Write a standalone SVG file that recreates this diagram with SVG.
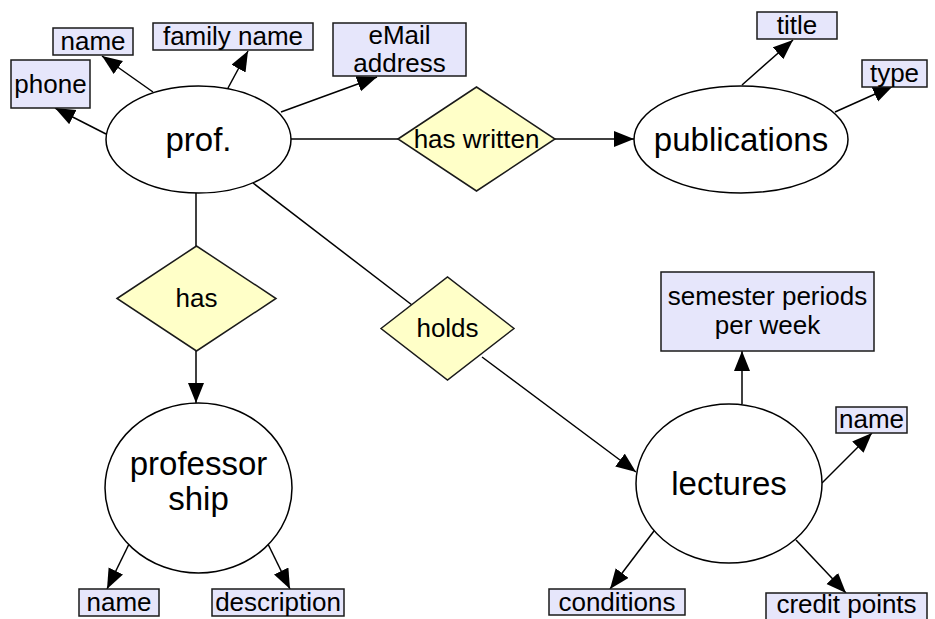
<svg xmlns="http://www.w3.org/2000/svg" width="935" height="619" viewBox="0 0 935 619">
  <style>
    .attr rect { fill: #e6e6fb; stroke: #1a1a1a; stroke-width: 1.5; }
    .rel polygon { fill: #ffffc8; stroke: #1a1a1a; stroke-width: 1.5; }
    .ent ellipse { fill: #ffffff; stroke: #000000; stroke-width: 1.5; }
    text { font-family: "Liberation Sans", Arial, sans-serif; fill: #000000; text-anchor: middle; }
    .attr text, .rel text { font-size: 26px; }
    .ent text { font-size: 33px; }
    .edges line { stroke: #000000; stroke-width: 1.5; }
  </style>
  <defs>
    <marker id="arrow" markerUnits="userSpaceOnUse" markerWidth="22" markerHeight="17" refX="20" refY="8" orient="auto">
      <path d="M0,0 L20,8 L0,16 z" fill="#000000"/>
    </marker>
  </defs>

  <rect width="935" height="619" fill="#ffffff"/>

  <!-- connectors -->
  <g class="edges">
    <line x1="106" y1="134" x2="55" y2="108" marker-end="url(#arrow)"/>
    <line x1="153" y1="92" x2="102" y2="56" marker-end="url(#arrow)"/>
    <line x1="228" y1="88" x2="248" y2="51" marker-end="url(#arrow)"/>
    <line x1="281" y1="112" x2="377" y2="77" marker-end="url(#arrow)"/>
    <line x1="291" y1="139" x2="398" y2="139"/>
    <line x1="555" y1="139" x2="634" y2="139" marker-end="url(#arrow)"/>
    <line x1="742" y1="85" x2="793" y2="40" marker-end="url(#arrow)"/>
    <line x1="835" y1="112" x2="893" y2="86" marker-end="url(#arrow)"/>
    <line x1="196" y1="193" x2="196" y2="246"/>
    <line x1="196" y1="351" x2="196" y2="403" marker-end="url(#arrow)"/>
    <line x1="253" y1="183" x2="412" y2="305"/>
    <line x1="482" y1="357" x2="636" y2="472" marker-end="url(#arrow)"/>
    <line x1="131" y1="540" x2="107" y2="589" marker-end="url(#arrow)"/>
    <line x1="266" y1="540" x2="290" y2="589" marker-end="url(#arrow)"/>
    <line x1="742" y1="404" x2="742" y2="351" marker-end="url(#arrow)"/>
    <line x1="822" y1="483" x2="872" y2="433" marker-end="url(#arrow)"/>
    <line x1="657" y1="527" x2="610" y2="589" marker-end="url(#arrow)"/>
    <line x1="796" y1="540" x2="846" y2="593" marker-end="url(#arrow)"/>
  </g>

  <!-- entities -->
  <g id="prof" class="ent">
    <ellipse cx="198.5" cy="139.5" rx="92.5" ry="53.5"/>
    <text x="198.5" y="151">prof.</text>
  </g>
  <g id="publications" class="ent">
    <ellipse cx="741" cy="139.5" rx="107" ry="53.5"/>
    <text x="741" y="151">publications</text>
  </g>
  <g id="professorship" class="ent">
    <ellipse cx="198.5" cy="488" rx="93.5" ry="85"/>
    <text x="198.5" y="475">professor</text>
    <text x="198.5" y="510">ship</text>
  </g>
  <g id="lectures" class="ent">
    <ellipse cx="729" cy="483.5" rx="93" ry="79.5"/>
    <text x="729" y="495">lectures</text>
  </g>

  <!-- relationships -->
  <g id="has-written" class="rel">
    <polygon points="398,139 476.5,87 555,139 476.5,191"/>
    <text x="476.5" y="148">has written</text>
  </g>
  <g id="has" class="rel">
    <polygon points="117,298.5 196.5,246 276,298.5 196.5,351"/>
    <text x="196.5" y="307">has</text>
  </g>
  <g id="holds" class="rel">
    <polygon points="381,328.5 447.5,277 514,328.5 447.5,380"/>
    <text x="447.5" y="337">holds</text>
  </g>

  <!-- attributes -->
  <g id="prof-phone" class="attr">
    <rect x="11" y="60" width="79" height="48"/>
    <text x="50.5" y="93">phone</text>
  </g>
  <g id="prof-name" class="attr">
    <rect x="53" y="28" width="80" height="27"/>
    <text x="93" y="50">name</text>
  </g>
  <g id="prof-family-name" class="attr">
    <rect x="153" y="23" width="160" height="27"/>
    <text x="233" y="45">family name</text>
  </g>
  <g id="prof-email" class="attr">
    <rect x="333" y="23" width="133" height="53"/>
    <text x="399.5" y="44">eMail</text>
    <text x="399.5" y="72">address</text>
  </g>
  <g id="pub-title" class="attr">
    <rect x="757" y="12" width="80" height="27"/>
    <text x="797" y="34">title</text>
  </g>
  <g id="pub-type" class="attr">
    <rect x="862" y="60" width="65" height="27"/>
    <text x="894.5" y="82">type</text>
  </g>
  <g id="ship-name" class="attr">
    <rect x="79" y="589" width="80" height="27"/>
    <text x="119" y="611">name</text>
  </g>
  <g id="ship-description" class="attr">
    <rect x="212" y="589" width="132" height="27"/>
    <text x="278" y="611">description</text>
  </g>
  <g id="lect-semester" class="attr">
    <rect x="661" y="272" width="213" height="79"/>
    <text x="767.5" y="305">semester periods</text>
    <text x="767.5" y="334">per week</text>
  </g>
  <g id="lect-name" class="attr">
    <rect x="836" y="407" width="71" height="26"/>
    <text x="871.5" y="428">name</text>
  </g>
  <g id="lect-conditions" class="attr">
    <rect x="549" y="589" width="136" height="26"/>
    <text x="617" y="611">conditions</text>
  </g>
  <g id="lect-credit-points" class="attr">
    <rect x="766" y="593" width="161" height="30"/>
    <text x="846.5" y="613">credit points</text>
  </g>
</svg>
